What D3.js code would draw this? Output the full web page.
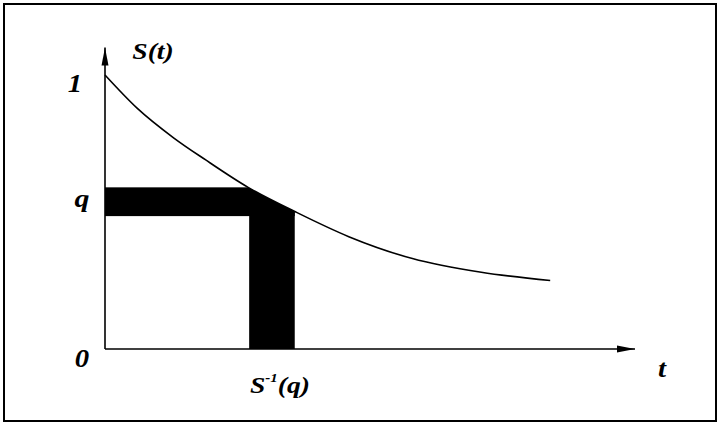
<!DOCTYPE html>
<html>
<head>
<meta charset="utf-8">
<script src="https://cdn.jsdelivr.net/npm/d3@7"></script>
<style>
    body { margin: 0; background: #fff; }
    svg { display: block; }
</style>
</head>
<body>
<div id="chart-container"></div>
<script>
// Survival curve S(t)
const tValues = [0, 0.6, 1.3, 1.9, 2.7, 3.6, 4.6, 5.8, 7.1, 8.4];
const sValues = [1.0, 0.88, 0.77, 0.69, 0.59, 0.50, 0.41, 0.33, 0.28, 0.25];

// Black bands around q and S^-1(q)
const qBand = [0.485, 0.59];
const tBand = [2.72, 3.58];
const qLabel = 0.535;

// Axis extents
const tDomain = [0, 10];
const sDomain = [0, 1];
const sAxisTop = 1.1;

const width = 719;
const height = 424;
const serif = "'Liberation Serif', 'Times New Roman', Times, serif";

const svg = d3.select("#chart-container")
    .append("svg")
    .attr("width", width)
    .attr("height", height);

const x = d3.scaleLinear().domain(tDomain).range([105, 635]);
const y = d3.scaleLinear().domain(sDomain).range([349, 75]);

const points = tValues.map((t, i) => ({ t: t, s: sValues[i] }));

// Frame
svg.append("rect")
    .attr("x", 4).attr("y", 4)
    .attr("width", 712).attr("height", 417)
    .attr("fill", "none")
    .attr("stroke", "#000")
    .attr("stroke-width", 2);

// Arrow marker
const defs = svg.append("defs");
defs.append("marker")
    .attr("id", "arrow")
    .attr("markerUnits", "userSpaceOnUse")
    .attr("viewBox", "0 0 18 8")
    .attr("refX", 18).attr("refY", 4)
    .attr("markerWidth", 18).attr("markerHeight", 8)
    .attr("orient", "auto")
    .append("path")
    .attr("d", "M0,0.5 L18,4 L0,7.5 Z")
    .attr("fill", "#000");

// Clip: region under the curve
const area = d3.area()
    .x(d => x(d.t))
    .y0(y(0))
    .y1(d => y(d.s))
    .curve(d3.curveMonotoneX);

defs.append("clipPath")
    .attr("id", "under-curve")
    .append("path")
    .attr("d", area(points));

// Black bands
const bands = svg.append("g").attr("clip-path", "url(#under-curve)");
bands.append("rect")
    .attr("x", x(0))
    .attr("y", y(qBand[1]))
    .attr("width", x(tBand[1]) - x(0))
    .attr("height", y(qBand[0]) - y(qBand[1]))
    .attr("fill", "#000");
bands.append("rect")
    .attr("x", x(tBand[0]))
    .attr("y", y(qBand[1]))
    .attr("width", x(tBand[1]) - x(tBand[0]))
    .attr("height", y(0) - y(qBand[1]))
    .attr("fill", "#000");

// Axes
svg.append("line")
    .attr("x1", x(0)).attr("y1", y(0))
    .attr("x2", x(0)).attr("y2", y(sAxisTop))
    .attr("stroke", "#000").attr("stroke-width", 1.6)
    .attr("marker-end", "url(#arrow)");
svg.append("line")
    .attr("x1", x(0)).attr("y1", y(0))
    .attr("x2", x(tDomain[1])).attr("y2", y(0))
    .attr("stroke", "#000").attr("stroke-width", 1.6)
    .attr("marker-end", "url(#arrow)");

// Curve
const line = d3.line()
    .x(d => x(d.t))
    .y(d => y(d.s))
    .curve(d3.curveMonotoneX);

svg.append("path")
    .datum(points)
    .attr("fill", "none")
    .attr("stroke", "#000")
    .attr("stroke-width", 1.6)
    .attr("d", line);

// Labels
function label(text, px, py, size) {
    return svg.append("text")
        .attr("font-family", serif)
        .attr("font-weight", "bold")
        .attr("font-style", "italic")
        .attr("font-size", size)
        .attr("text-anchor", "middle")
        .attr("transform", `translate(${px},${py}) scale(1.15,1)`)
        .text(text);
}

label("S(t)", 153, 59, 24);
label("1", 75, 92, 25);
label("q", 82, y(qLabel) + 5, 26);
label("0", 82, 367, 25);
label("t", 662, 377, 25);

const inv = label("", x((tBand[0] + tBand[1]) / 2) + 8, 393, 24);
inv.append("tspan").text("S");
inv.append("tspan").attr("dy", -11).attr("font-size", 13).text("-1");
inv.append("tspan").attr("dy", 11).text("(q)");
</script>
</body>
</html>
